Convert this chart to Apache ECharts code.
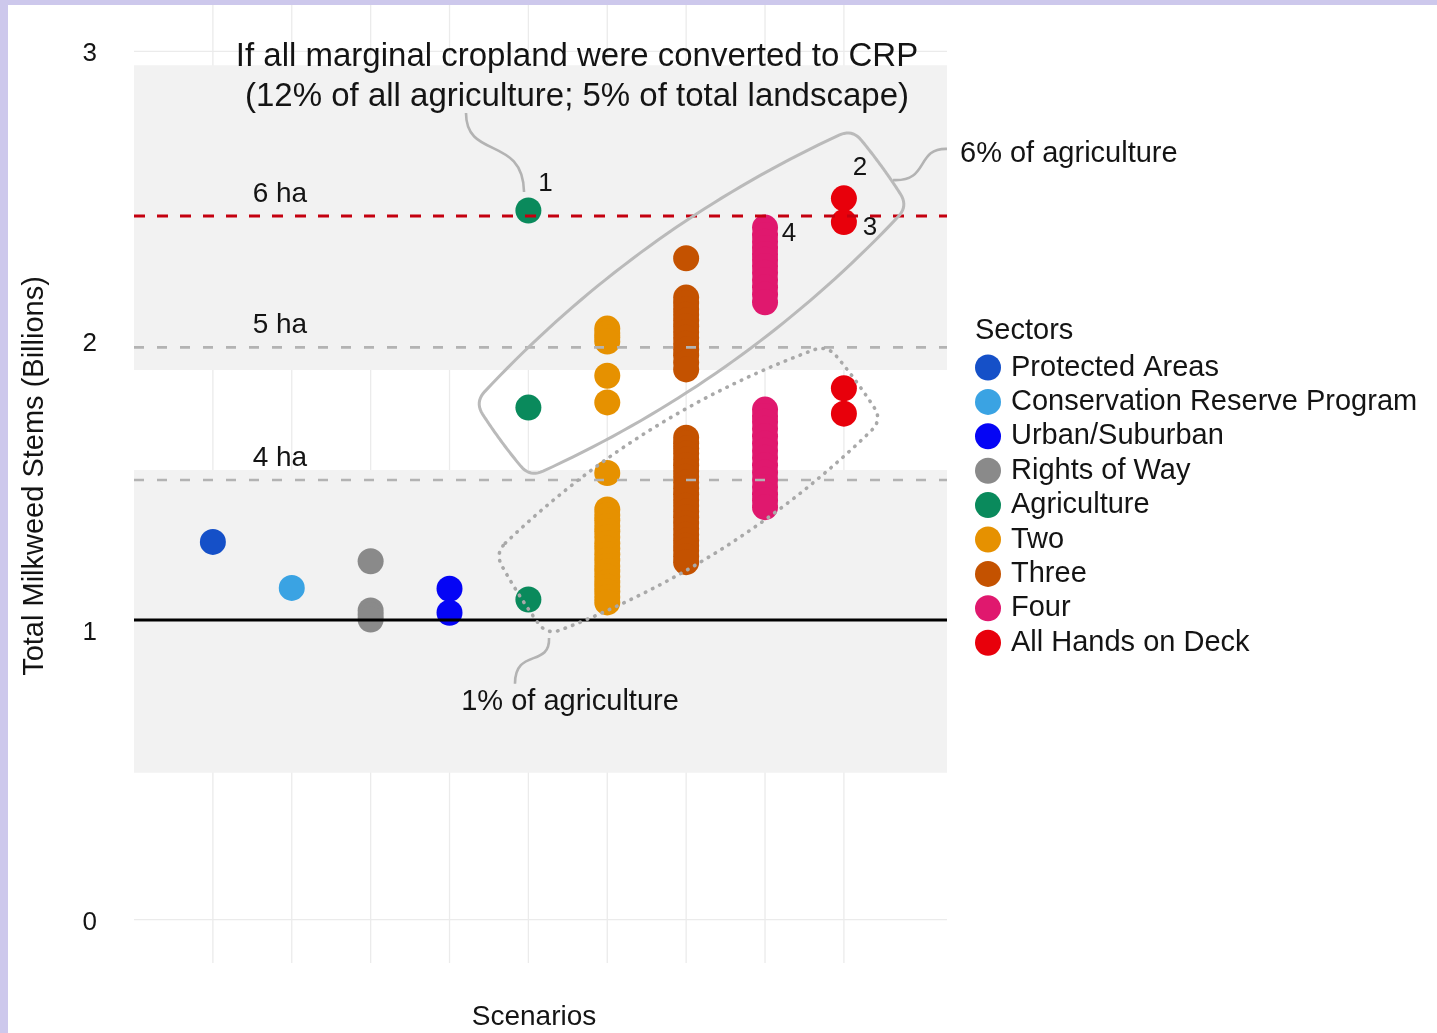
<!DOCTYPE html>
<html>
<head>
<meta charset="utf-8">
<script src="https://cdn.jsdelivr.net/npm/echarts@6/dist/echarts.min.js"></script>
<style>
  html, body { margin: 0; padding: 0; background: #ffffff; }
  #chart { width: 1437px; height: 1033px; }
</style>
</head>
<body>
<div id="chart"></div>
<script>
// ---- data -------------------------------------------------------------
const sectors = ['Protected Areas', 'Conservation Reserve Program', 'Urban/Suburban',
  'Rights of Way', 'Agriculture', 'Two', 'Three', 'Four', 'All Hands on Deck'];
// scenario column (x) of each sector
const scenarioSlot = [1, 2, 4, 3, 5, 6, 7, 8, 9];

// total milkweed stems, billions
const protectedAreas = [1.305];
const conservationReserve = [1.146];
const urbanSuburban = [1.143, 1.060];
const rightsOfWay = [1.238, 1.068, 1.052, 1.037];
const agriculture = [2.450, 1.769, 1.106];
const two = [2.042, 2.027, 2.012, 1.997, 1.879, 1.787, 1.543,
  1.417, 1.398, 1.380, 1.360, 1.342, 1.322, 1.300, 1.282, 1.262, 1.242, 1.222,
  1.204, 1.185, 1.166, 1.150, 1.134, 1.115, 1.096];
const three = [2.285,
  2.149, 2.130, 2.110, 2.090, 2.070, 2.050, 2.030, 2.010, 1.990, 1.970, 1.950, 1.925, 1.901,
  1.665, 1.646, 1.628, 1.610, 1.590, 1.570, 1.550, 1.530, 1.510, 1.490, 1.470, 1.450,
  1.430, 1.410, 1.390, 1.370, 1.350, 1.330, 1.310, 1.292, 1.275, 1.255, 1.235];
const four = [2.391, 2.365, 2.342, 2.320, 2.300, 2.280, 2.258, 2.235, 2.210, 2.185,
  2.160, 2.133,
  1.762, 1.740, 1.720, 1.696, 1.670, 1.645, 1.620, 1.596, 1.570, 1.545, 1.520,
  1.495, 1.470, 1.448, 1.425];
const allHandsOnDeck = [2.492, 2.410, 1.836, 1.748];
const sectorValues = [protectedAreas, conservationReserve, urbanSuburban, rightsOfWay,
  agriculture, two, three, four, allHandsOnDeck];

const yTicks = [0, 1, 2, 3];
const shadedBands = [[1.899, 2.952], [0.507, 1.553]];
const baselineLevel = 1.035;
const haLevels = [2.431, 1.977, 1.519];
const haNames = ['6 ha', '5 ha', '4 ha'];
// [sector index, point index, tag]
const pointTags = [[4, 0, '1'], [8, 0, '2'], [8, 1, '3'], [7, 0, '4']];

// annotation outlines, in data units (scenario, billions)
const hullSixPct = [[4.323, 1.788], [9.103, 2.731], [9.813, 2.465], [5.021, 1.529]];
const hullOnePct = [[4.577, 1.266], [8.786, 1.985], [9.483, 1.726], [5.236, 0.983]];
const leaderCropland = [[4.209, 2.787], [4.209, 2.624], [4.932, 2.711], [4.945, 2.514]];
const leaderSixPct = [[9.623, 2.555], [10.092, 2.549], [9.902, 2.666], [10.307, 2.663]];
const leaderOnePct = [[5.262, 0.973], [5.274, 0.870], [4.830, 0.939], [4.830, 0.815]];

// ---- styles -----------------------------------------------------------
const FONT = '"Liberation Sans", Arial, Helvetica, sans-serif';
const INK = '#141414';
const sectorColors = ['#1550c8', '#3aa3e3', '#0505f5', '#8a8a8a', '#0a8a5c',
  '#e69100', '#c45200', '#e0186e', '#e8000b'];
const tagOffsets = { '1': [17, -27], '2': [16, -31], '3': [26, 6], '4': [24, 6] };
const X_MIN = 0, X_MAX = 10.307, Y_MIN = -0.15, Y_MAX = 3.16;

// rounded outline with outward-bowed edges, returned as pixel points
function outlinePoints(cornersPx, bows, radius) {
  const n = cornersPx.length;
  let cx = 0, cy = 0;
  cornersPx.forEach(p => { cx += p[0] / n; cy += p[1] / n; });
  const edges = cornersPx.map((a, i) => {
    const b = cornersPx[(i + 1) % n];
    const dx = b[0] - a[0], dy = b[1] - a[1], len = Math.hypot(dx, dy);
    let nx = -dy / len, ny = dx / len;
    const mx = (a[0] + b[0]) / 2, my = (a[1] + b[1]) / 2;
    if ((mx - cx) * nx + (my - cy) * ny < 0) { nx = -nx; ny = -ny; }
    return { a, b, c: [mx + nx * 2 * bows[i], my + ny * 2 * bows[i]], len };
  });
  const quad = (p0, c, p1, t) => [
    (1 - t) * (1 - t) * p0[0] + 2 * t * (1 - t) * c[0] + t * t * p1[0],
    (1 - t) * (1 - t) * p0[1] + 2 * t * (1 - t) * c[1] + t * t * p1[1]
  ];
  const pts = [];
  edges.forEach((e, i) => {
    const t0 = radius / e.len, t1 = 1 - radius / e.len;
    for (let k = 0; k <= 40; k++) pts.push(quad(e.a, e.c, e.b, t0 + (t1 - t0) * k / 40));
    const nxt = edges[(i + 1) % n];
    const from = quad(e.a, e.c, e.b, t1);
    const to = quad(nxt.a, nxt.c, nxt.b, radius / nxt.len);
    for (let k = 1; k < 10; k++) pts.push(quad(from, e.b, to, k / 10));
  });
  return pts;
}

function bezierEl(api, ctrl, style) {
  const p = ctrl.map(v => api.coord(v));
  return {
    type: 'bezierCurve',
    shape: { x1: p[0][0], y1: p[0][1], cpx1: p[1][0], cpy1: p[1][1],
      cpx2: p[2][0], cpy2: p[2][1], x2: p[3][0], y2: p[3][1] },
    style: Object.assign({ fill: 'none' }, style)
  };
}

function renderBackdrop(params, api) {
  const children = [];
  yTicks.forEach(v => {
    const a = api.coord([X_MIN, v]), b = api.coord([X_MAX, v]);
    children.push({ type: 'line', shape: { x1: a[0], y1: a[1], x2: b[0], y2: b[1] },
      style: { stroke: '#ebebeb', lineWidth: 1.3 } });
  });
  scenarioSlot.forEach(x => {
    const a = api.coord([x, Y_MIN]), b = api.coord([x, Y_MAX]);
    children.push({ type: 'line', shape: { x1: a[0], y1: a[1], x2: b[0], y2: b[1] },
      style: { stroke: '#ebebeb', lineWidth: 1.3 } });
  });
  shadedBands.forEach(([lo, hi]) => {
    const p = api.coord([X_MIN, hi]), q = api.coord([X_MAX, lo]);
    children.push({ type: 'rect',
      shape: { x: p[0], y: p[1], width: q[0] - p[0], height: q[1] - p[1] },
      style: { fill: '#f2f2f2' } });
  });
  return { type: 'group', children };
}

function renderLevels(params, api) {
  const children = [];
  const a = api.coord([X_MIN, baselineLevel]), b = api.coord([X_MAX, baselineLevel]);
  children.push({ type: 'line', shape: { x1: a[0], y1: a[1], x2: b[0], y2: b[1] },
    style: { stroke: '#000000', lineWidth: 3 } });
  haLevels.forEach((v, i) => {
    const s = api.coord([X_MIN, v]), e = api.coord([X_MAX, v]);
    const first = i === 0;
    children.push({ type: 'line', shape: { x1: s[0], y1: s[1], x2: e[0], y2: e[1] },
      style: { stroke: first ? '#c4000f' : '#b3b3b3', lineWidth: first ? 3.2 : 2.6,
        lineDash: first ? [11, 12] : [10, 13] } });
    const t = api.coord([1.85, v]);
    children.push({ type: 'text', style: { text: haNames[i], x: t[0], y: t[1] - 22,
      align: 'center', verticalAlign: 'middle', fontSize: 28, fontFamily: FONT, fill: INK } });
  });
  return { type: 'group', children };
}

function renderNotes(params, api) {
  const children = [];
  const solid = outlinePoints(hullSixPct.map(v => api.coord(v)), [24, 2, 24, 2], 14);
  children.push({ type: 'polygon', shape: { points: solid },
    style: { fill: 'none', stroke: '#bababa', lineWidth: 3 } });
  const dotted = outlinePoints(hullOnePct.map(v => api.coord(v)), [22, 2, 22, 2], 14);
  children.push({ type: 'polygon', shape: { points: dotted },
    style: { fill: 'none', stroke: '#a9a9a9', lineWidth: 3.6, lineDash: [0.5, 7.5], lineCap: 'round' } });
  const lead = { stroke: '#b3b3b3', lineWidth: 2.6 };
  children.push(bezierEl(api, leaderCropland, lead));
  children.push(bezierEl(api, leaderSixPct, lead));
  children.push(bezierEl(api, leaderOnePct, lead));
  return { type: 'group', children };
}

const scatterSeries = sectors.map((name, i) => ({
  type: 'scatter',
  name,
  z: 2,
  symbol: 'circle',
  symbolSize: 26,
  itemStyle: { color: sectorColors[i], opacity: 1 },
  emphasis: { disabled: true },
  data: sectorValues[i].map((v, j) => {
    const item = { value: [scenarioSlot[i], v] };
    const tag = pointTags.find(t => t[0] === i && t[1] === j);
    if (tag) {
      item.label = { show: true, formatter: tag[2], position: 'inside', offset: tagOffsets[tag[2]],
        fontSize: 26, fontFamily: FONT, color: INK, textBorderWidth: 0 };
    }
    return item;
  })
}));

const chart = echarts.init(document.getElementById('chart'), null, { renderer: 'canvas' });
chart.setOption({
  backgroundColor: '#ffffff',
  animation: false,
  grid: { left: 134, right: 490, top: 5, bottom: 70, containLabel: false },
  xAxis: {
    type: 'value', min: X_MIN, max: X_MAX,
    axisLine: { show: false }, axisTick: { show: false },
    axisLabel: { show: false }, splitLine: { show: false }
  },
  yAxis: {
    type: 'value', min: Y_MIN, max: Y_MAX,
    axisLine: { show: false }, axisTick: { show: false }, splitLine: { show: false },
    axisLabel: { customValues: yTicks, margin: 37, formatter: '{t|{value}}',
      rich: { t: { fontSize: 26, fontFamily: FONT, color: INK, padding: [6, 0, 0, 0] } } }
  },
  legend: {
    data: sectors, orient: 'vertical', left: 970, top: 348,
    icon: 'circle', itemWidth: 36, itemHeight: 26, itemGap: 5.4,
    selectedMode: false,
    textStyle: { fontSize: 29, fontFamily: FONT, color: INK }
  },
  graphic: [
    { type: 'rect', left: 0, top: 0, z: 100, shape: { width: 8, height: 1033 }, style: { fill: '#cdc8ec' } },
    { type: 'rect', left: 0, top: 0, z: 100, shape: { width: 1437, height: 5 }, style: { fill: '#cdc8ec' } },
    { type: 'text', x: 577, y: 57, z: 50, style: { text: 'If all marginal cropland were converted to CRP',
      align: 'center', verticalAlign: 'middle', fontSize: 33, fontFamily: FONT, fill: INK } },
    { type: 'text', x: 577, y: 97, z: 50, style: { text: '(12% of all agriculture; 5% of total landscape)',
      align: 'center', verticalAlign: 'middle', fontSize: 33, fontFamily: FONT, fill: INK } },
    { type: 'text', x: 960, y: 154, z: 50, style: { text: '6% of agriculture',
      align: 'left', verticalAlign: 'middle', fontSize: 29, fontFamily: FONT, fill: INK } },
    { type: 'text', x: 570, y: 702, z: 50, style: { text: '1% of agriculture',
      align: 'center', verticalAlign: 'middle', fontSize: 29, fontFamily: FONT, fill: INK } },
    { type: 'text', x: 975, y: 331, z: 50, style: { text: 'Sectors',
      align: 'left', verticalAlign: 'middle', fontSize: 29, fontFamily: FONT, fill: INK } },
    { type: 'text', x: 534, y: 1017, z: 50, style: { text: 'Scenarios',
      align: 'center', verticalAlign: 'middle', fontSize: 28, fontFamily: FONT, fill: INK } },
    { type: 'text', x: 35, y: 476, z: 50, rotation: Math.PI / 2, style: { text: 'Total Milkweed Stems (Billions)',
      align: 'center', verticalAlign: 'middle', fontSize: 29, fontFamily: FONT, fill: INK } }
  ],
  series: [
    { type: 'custom', name: 'backdrop', z: 1, silent: true, clip: false,
      renderItem: renderBackdrop, data: [[0, 0]] },
    ...scatterSeries,
    { type: 'custom', name: 'levels', z: 3, silent: true, clip: false,
      renderItem: renderLevels, data: [[0, 0]] },
    { type: 'custom', name: 'notes', z: 4, silent: true, clip: false,
      renderItem: renderNotes, data: [[0, 0]] }
  ]
});
</script>
</body>
</html>
